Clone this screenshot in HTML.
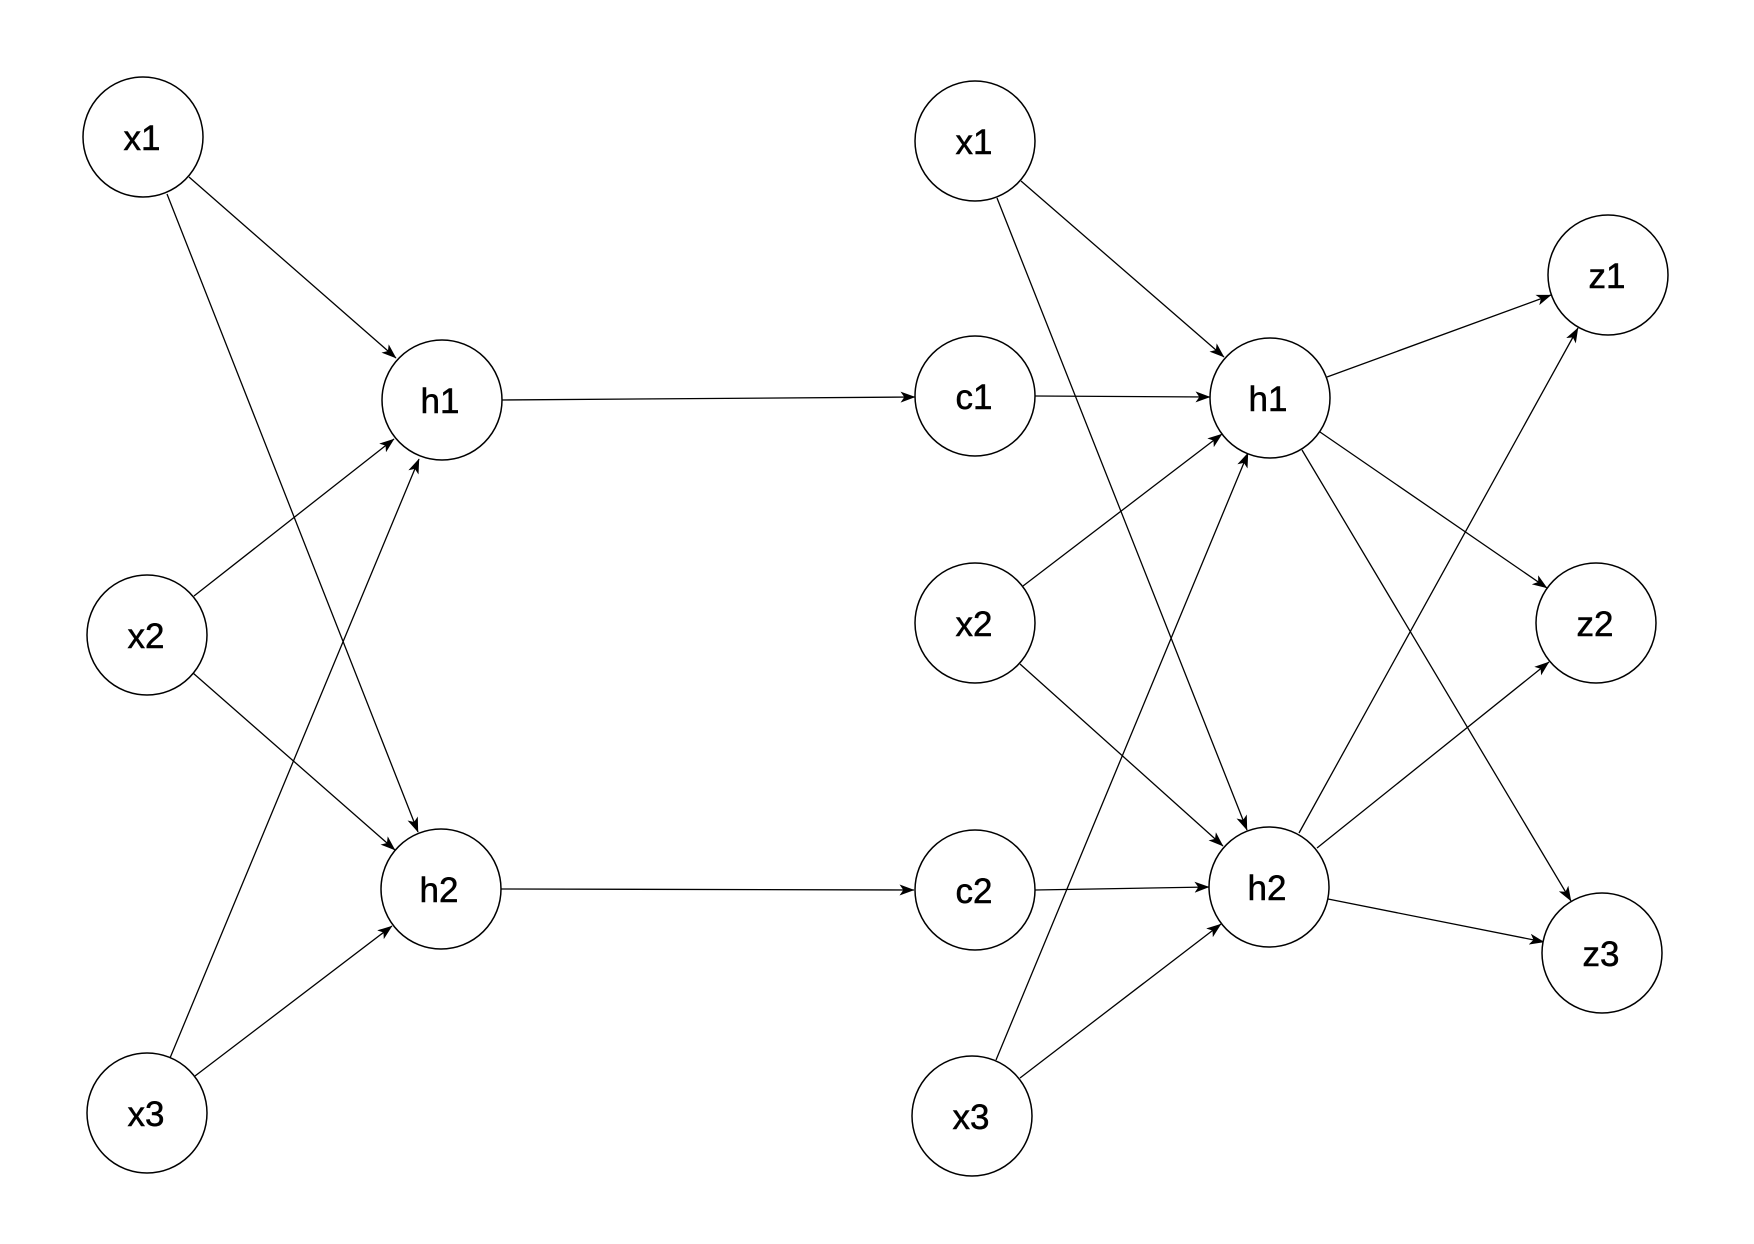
<!DOCTYPE html>
<html>
<head>
<meta charset="utf-8">
<style>
  html, body { margin: 0; padding: 0; background: #ffffff; }
  svg { display: block; }
  text { font-family: "Liberation Sans", Arial, sans-serif; font-size: 35px; fill: #000; stroke: #000; stroke-width: 0.5px; }
</style>
</head>
<body>
<svg width="1754" height="1244" viewBox="0 0 1754 1244" xmlns="http://www.w3.org/2000/svg">
  <defs>
    <marker id="a" viewBox="0 0 15 11" refX="14.5" refY="5.5" markerWidth="15" markerHeight="11" markerUnits="userSpaceOnUse" orient="auto">
      <path d="M0,0 L15,5.5 L0,11 L3.8,5.5 Z" fill="#000"/>
    </marker>
  </defs>
  <rect width="1754" height="1244" fill="#fff"/>
  <g stroke="#000" stroke-width="1.3" fill="none" marker-end="url(#a)">
    <!-- left group -->
    <line x1="189" y1="177" x2="396" y2="358"/>
    <line x1="167" y1="194" x2="418" y2="832"/>
    <line x1="194" y1="596" x2="394" y2="439"/>
    <line x1="193" y1="673" x2="395" y2="850"/>
    <line x1="170" y1="1058" x2="419" y2="459"/>
    <line x1="195" y1="1076" x2="392" y2="926"/>
    <line x1="502" y1="400" x2="915" y2="397"/>
    <line x1="501" y1="889" x2="914" y2="890"/>
    <!-- right group -->
    <line x1="1021" y1="181" x2="1224" y2="357"/>
    <line x1="997" y1="198" x2="1247" y2="830"/>
    <line x1="1035" y1="396" x2="1210" y2="397"/>
    <line x1="1023" y1="586" x2="1222" y2="434"/>
    <line x1="1020" y1="664" x2="1223" y2="846"/>
    <line x1="996" y1="1060" x2="1248" y2="453"/>
    <line x1="1020" y1="1078" x2="1221" y2="924"/>
    <line x1="1035" y1="890" x2="1209" y2="887"/>
    <line x1="1327" y1="377" x2="1551" y2="295"/>
    <line x1="1320" y1="432" x2="1547" y2="588"/>
    <line x1="1302" y1="450" x2="1571" y2="901"/>
    <line x1="1299" y1="833" x2="1578" y2="328"/>
    <line x1="1317" y1="848" x2="1549" y2="662"/>
    <line x1="1328" y1="899" x2="1544" y2="942"/>
  </g>
  <g stroke="#000" stroke-width="1.5" fill="#fff">
    <circle cx="143" cy="137" r="60"/>
    <circle cx="147" cy="635" r="60"/>
    <circle cx="147" cy="1113" r="60"/>
    <circle cx="442" cy="400" r="60"/>
    <circle cx="441" cy="889" r="60"/>
    <circle cx="975" cy="141" r="60"/>
    <circle cx="975" cy="396" r="60"/>
    <circle cx="975" cy="623" r="60"/>
    <circle cx="975" cy="890" r="60"/>
    <circle cx="972" cy="1116" r="60"/>
    <circle cx="1270" cy="398" r="60"/>
    <circle cx="1269" cy="887" r="60"/>
    <circle cx="1608" cy="275" r="60"/>
    <circle cx="1596" cy="623" r="60"/>
    <circle cx="1602" cy="953" r="60"/>
  </g>
  <g text-anchor="middle">
    <text x="142" y="150">x1</text>
    <text x="146" y="648">x2</text>
    <text x="146" y="1126">x3</text>
    <text x="440" y="413">h1</text>
    <text x="439" y="902">h2</text>
    <text x="974" y="154">x1</text>
    <text x="974" y="409">c1</text>
    <text x="974" y="636">x2</text>
    <text x="974" y="903">c2</text>
    <text x="971" y="1129">x3</text>
    <text x="1268" y="411">h1</text>
    <text x="1267" y="900">h2</text>
    <text x="1607" y="288">z1</text>
    <text x="1595" y="636">z2</text>
    <text x="1601" y="966">z3</text>
  </g>
</svg>
</body>
</html>
